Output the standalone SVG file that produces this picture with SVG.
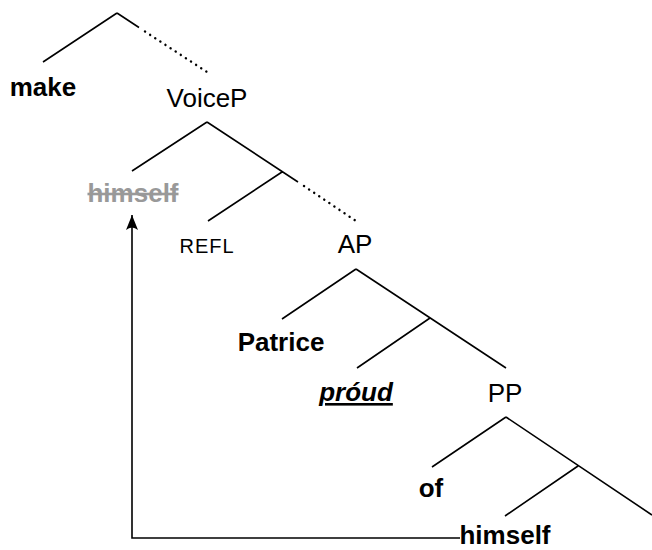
<svg xmlns="http://www.w3.org/2000/svg" width="652" height="550" viewBox="0 0 652 550">
<defs>
<style>
.e{stroke:#000;stroke-width:1.6;fill:none}
.d{stroke:#000;stroke-width:2.4;fill:none;stroke-dasharray:0.1 6;stroke-linecap:round}
text{font-family:"Liberation Sans",Arial,sans-serif;font-size:26px;text-anchor:middle;fill:#000}
.b{font-weight:bold}
</style>
<marker id="ah" markerUnits="userSpaceOnUse" markerWidth="18" markerHeight="18" viewBox="-16 -9 18 18" refX="0" refY="0" orient="auto">
<path d="M0,0 L-15,-6 Q-10,0 -15,6 Z" fill="#000"/>
</marker>
</defs>
<g id="connectors">
<path class="e" d="M117,13 L43,62 M117,13 L139,27.5"/>
<path class="d" d="M145,31.5 L207,72"/>
<path class="e" d="M207,122 L132,171 M207,122 L298,182 M282,172 L208,221"/>
<path class="d" d="M304,186 L356,221"/>
<path class="e" d="M356,269 L282,319 M356,269 L506,368 M430,318 L357,368"/>
<path class="e" d="M506,417 L432,467 M506,417 L652,515 M578,466 L505,516"/>
<path class="e" d="M460,538 H132 V215" marker-end="url(#ah)"/>
</g>
<g id="n-make"><text class="b" x="43" y="96">make</text></g>
<g id="n-voicep"><text x="207" y="107">VoiceP</text></g>
<g id="n-himself-trace"><text class="b" x="133" y="202" style="fill:#999" text-decoration="line-through">himself</text></g>
<g id="n-refl"><text x="207" y="253" style="font-size:20px;letter-spacing:1px">REFL</text></g>
<g id="n-ap"><text x="355" y="253">AP</text></g>
<g id="n-patrice"><text class="b" x="281" y="351">Patrice</text></g>
<g id="n-proud"><text class="b" x="356" y="401" font-style="italic" text-decoration="underline">próud</text></g>
<g id="n-pp"><text x="505" y="402">PP</text></g>
<g id="n-of"><text class="b" x="431" y="497">of</text></g>
<g id="n-himself"><text class="b" x="505" y="544">himself</text></g>
</svg>
